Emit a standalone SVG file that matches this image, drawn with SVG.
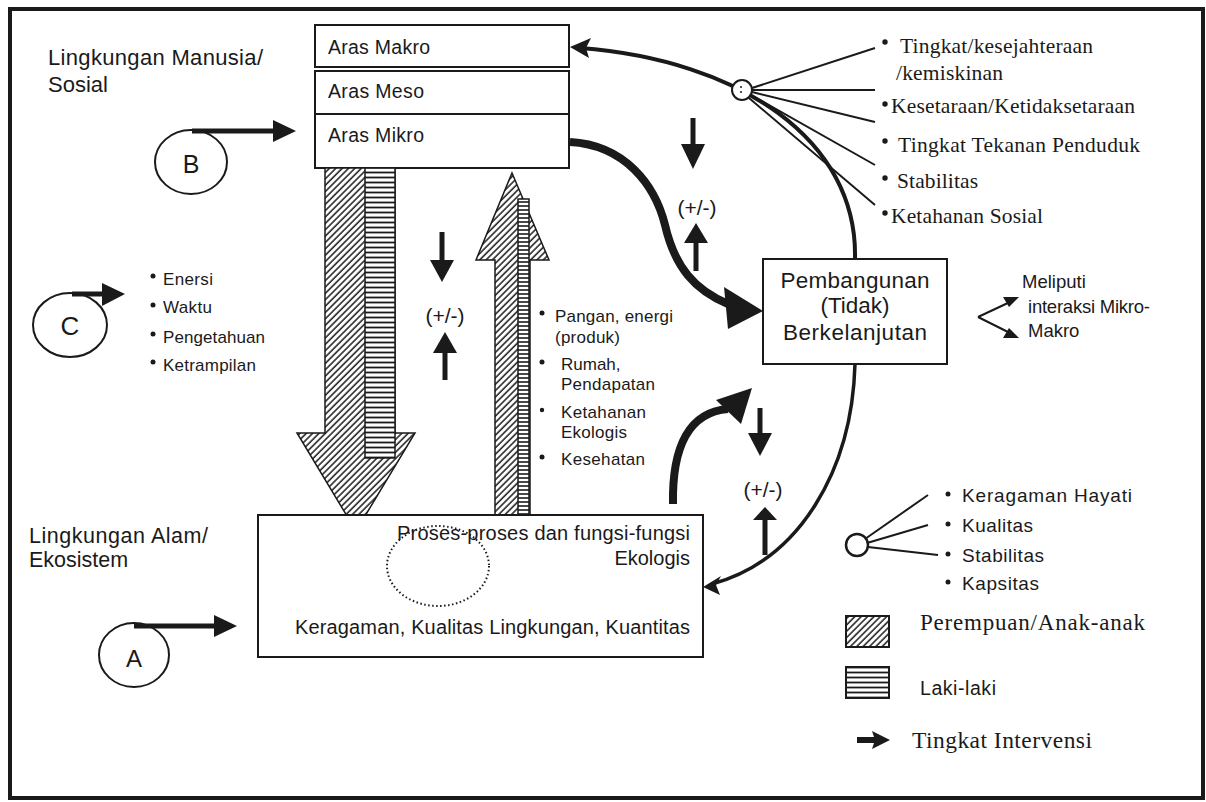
<svg xmlns="http://www.w3.org/2000/svg" width="1206" height="802" viewBox="0 0 1206 802">
<style>
.s{font-family:"Liberation Sans",Arial,sans-serif;fill:#1a1a1a}
.t{font-family:"Liberation Serif","Times New Roman",serif;fill:#1a1a1a}
.box{fill:#fff;stroke:#1a1a1a;stroke-width:2}
.ln{fill:none;stroke:#1a1a1a}
.fill{fill:#1a1a1a}
</style>
<defs>
<pattern id="hatch" patternUnits="userSpaceOnUse" width="4.5" height="4.5" patternTransform="rotate(45)">
<rect width="4.5" height="4.5" fill="#fff"/>
<line x1="1" y1="0" x2="1" y2="4.5" stroke="#1a1a1a" stroke-width="1.5"/>
</pattern>
<pattern id="stripes" patternUnits="userSpaceOnUse" width="8" height="5">
<rect width="8" height="5" fill="#fff"/>
<line x1="0" y1="2.5" x2="8" y2="2.5" stroke="#1a1a1a" stroke-width="1.8"/>
</pattern>
<pattern id="stripes2" patternUnits="userSpaceOnUse" width="8" height="4">
<rect width="8" height="4" fill="#fff"/>
<line x1="0" y1="2" x2="8" y2="2" stroke="#1a1a1a" stroke-width="1.6"/>
</pattern>
</defs>
<rect x="0" y="0" width="1206" height="802" fill="#fff"/>
<rect x="10" y="9" width="1193" height="789" fill="none" stroke="#1a1a1a" stroke-width="4"/>

<g id="label-manusia">
<text class="s" x="48" y="65" font-size="22" textLength="215">Lingkungan Manusia/</text>
<text class="s" x="48" y="92" font-size="22">Sosial</text>
</g>
<g id="label-alam">
<text class="s" x="29" y="543" font-size="21.5" textLength="179">Lingkungan Alam/</text>
<text class="s" x="29" y="567" font-size="21.5">Ekosistem</text>
</g>

<g id="aras">
<rect class="box" x="315" y="25" width="254" height="42"/>
<rect class="box" x="315" y="71" width="254" height="43"/>
<rect class="box" x="315" y="114" width="254" height="54"/>
<text class="s" x="328" y="54" font-size="19.5" textLength="102">Aras Makro</text>
<text class="s" x="328" y="98" font-size="19.5" textLength="96">Aras Meso</text>
<text class="s" x="328" y="142" font-size="19.5" textLength="96">Aras Mikro</text>
</g>

<g id="arrow-down">
<polygon points="325,168 395,168 395,433 415,433 356,531 297,433 325,433" fill="url(#hatch)" stroke="#1a1a1a" stroke-width="1.5"/>
<rect x="365" y="168" width="30" height="290" fill="url(#stripes)" stroke="#1a1a1a" stroke-width="1.5"/>
</g>

<g id="arrow-up">
<polygon points="512,173 549,260 530,260 530,520 495,520 495,260 476,260" fill="url(#hatch)" stroke="#1a1a1a" stroke-width="1.5"/>
<rect x="518" y="199" width="11" height="321" fill="url(#stripes2)" stroke="#1a1a1a" stroke-width="1.5"/>
</g>

<g id="node-B">
<ellipse class="ln" cx="191" cy="162" rx="36" ry="32" stroke-width="2"/>
<text class="s" x="191" y="173" font-size="25" text-anchor="middle">B</text>
</g>
<g id="node-C">
<ellipse class="ln" cx="70" cy="325" rx="37" ry="32" stroke-width="2"/>
<text class="s" x="70" y="335" font-size="26" text-anchor="middle">C</text>
</g>
<g id="node-A">
<ellipse class="ln" cx="134" cy="655" rx="35" ry="32" stroke-width="2"/>
<text class="s" x="134" y="667" font-size="24" text-anchor="middle">A</text>
</g>

<g id="list-C">
<circle class="fill" cx="153" cy="276" r="2.5"/>
<circle class="fill" cx="153" cy="305" r="2.5"/>
<circle class="fill" cx="153" cy="334" r="2.5"/>
<circle class="fill" cx="153" cy="362" r="2.5"/>
<text class="s" x="163" y="285" font-size="17" textLength="50">Enersi</text>
<text class="s" x="163" y="313" font-size="17" textLength="49">Waktu</text>
<text class="s" x="163" y="343" font-size="17" textLength="102">Pengetahuan</text>
<text class="s" x="163" y="371" font-size="17" textLength="93">Ketrampilan</text>
</g>

<g id="list-produk">
<circle class="fill" cx="542" cy="313" r="2.5"/>
<circle class="fill" cx="542" cy="362" r="2.5"/>
<circle class="fill" cx="542" cy="410" r="2.2"/>
<circle class="fill" cx="542" cy="457" r="2.5"/>
<text class="s" x="555" y="322" font-size="17" textLength="118">Pangan, energi</text>
<text class="s" x="555" y="343" font-size="17" textLength="65">(produk)</text>
<text class="s" x="561" y="370" font-size="17">Rumah,</text>
<text class="s" x="561" y="390" font-size="17" textLength="94">Pendapatan</text>
<text class="s" x="561" y="418" font-size="17" textLength="85">Ketahanan</text>
<text class="s" x="561" y="438" font-size="17" textLength="66">Ekologis</text>
<text class="s" x="561" y="465" font-size="17" textLength="84">Kesehatan</text>
</g>

<g id="node-pembangunan">
<rect class="box" x="763" y="259" width="184" height="105"/>
<text class="s" x="855" y="288" font-size="22.5" text-anchor="middle" textLength="149">Pembangunan</text>
<text class="s" x="855" y="313" font-size="22.5" text-anchor="middle">(Tidak)</text>
<text class="s" x="855" y="340" font-size="22.5" text-anchor="middle" textLength="144">Berkelanjutan</text>
</g>

<g id="meliputi">
<text class="s" x="1022" y="288" font-size="18.5">Meliputi</text>
<text class="s" x="1028" y="313" font-size="18.5" textLength="122">interaksi Mikro-</text>
<text class="s" x="1028" y="337" font-size="18.5">Makro</text>
</g>

<g id="node-ekosistem">
<rect class="box" x="258" y="515" width="445" height="142"/>
<ellipse cx="438" cy="566" rx="51" ry="40" fill="none" stroke="#1a1a1a" stroke-width="2" stroke-dasharray="1.5 2.5"/>
<text class="s" x="690" y="540" font-size="20" text-anchor="end" textLength="293">Proses-proses dan fungsi-fungsi</text>
<text class="s" x="690" y="565" font-size="20" text-anchor="end">Ekologis</text>
<text class="s" x="295" y="634" font-size="20" textLength="395">Keragaman, Kualitas Lingkungan, Kuantitas</text>
</g>

<g id="list-sosial">
<circle class="fill" cx="885" cy="42" r="2.7"/>
<circle class="fill" cx="885" cy="104" r="2.7"/>
<circle class="fill" cx="885" cy="141" r="2.7"/>
<circle class="fill" cx="885" cy="178" r="2.7"/>
<circle class="fill" cx="885" cy="213" r="2.7"/>
<text class="t" x="900" y="53" font-size="21.5" textLength="193">Tingkat/kesejahteraan</text>
<text class="t" x="896" y="80" font-size="21.5" textLength="107">/kemiskinan</text>
<text class="t" x="891" y="113" font-size="21.5" textLength="244">Kesetaraan/Ketidaksetaraan</text>
<text class="t" x="898" y="152" font-size="21.5" textLength="242">Tingkat Tekanan Penduduk</text>
<text class="t" x="897" y="188" font-size="21.5" textLength="81">Stabilitas</text>
<text class="t" x="891" y="223" font-size="21.5" textLength="152">Ketahanan Sosial</text>
</g>

<g id="list-alam">
<circle class="ln" cx="857" cy="545" r="11" stroke-width="2.5"/>
<circle class="fill" cx="948" cy="494" r="2.5"/>
<circle class="fill" cx="948" cy="524" r="2.5"/>
<circle class="fill" cx="948" cy="554" r="2.5"/>
<circle class="fill" cx="948" cy="582" r="2.5"/>
<text class="s" x="962" y="502" font-size="19" textLength="170">Keragaman Hayati</text>
<text class="s" x="962" y="532" font-size="19" textLength="71">Kualitas</text>
<text class="s" x="962" y="562" font-size="19" textLength="82">Stabilitas</text>
<text class="s" x="962" y="590" font-size="19" textLength="77">Kapsitas</text>
</g>

<g id="legend">
<rect x="846" y="616" width="43" height="31" fill="url(#hatch)" stroke="#1a1a1a" stroke-width="2"/>
<text class="t" x="920" y="630" font-size="23" textLength="225">Perempuan/Anak-anak</text>
<rect x="846" y="667" width="43" height="31" fill="url(#stripes)" stroke="#1a1a1a" stroke-width="2"/>
<text class="s" x="920" y="695" font-size="19.5" textLength="76">Laki-laki</text>
<line x1="857" y1="740" x2="876" y2="740" stroke="#1a1a1a" stroke-width="6"/>
<polygon class="fill" points="890,740 872,731 875,740 872,749"/>
<text class="t" x="912" y="748" font-size="23.5" textLength="180">Tingkat Intervensi</text>
</g>

<g id="connectors">
<line x1="192" y1="131" x2="276" y2="131" stroke="#1a1a1a" stroke-width="5"/>
<polygon class="fill" points="296,131 273,120 273,142"/>
<line x1="72" y1="294" x2="105" y2="294" stroke="#1a1a1a" stroke-width="5"/>
<polygon class="fill" points="125,294 102,283 102,306"/>
<line x1="134" y1="626" x2="217" y2="626" stroke="#1a1a1a" stroke-width="5"/>
<polygon class="fill" points="237,626 214,615 214,637"/>

<path class="ln" d="M855,259 C858,140 740,60 580,48" stroke-width="4"/>
<polygon class="fill" points="570,47 591,38 586,48 589,58"/>
<circle cx="742" cy="90" r="10" fill="#fff" stroke="#1a1a1a" stroke-width="2"/>
<circle class="fill" cx="741" cy="87" r="1"/>
<circle class="fill" cx="741" cy="92" r="1"/>
<g class="ln" stroke-width="2">
<line x1="752" y1="88" x2="875" y2="48"/>
<line x1="752" y1="90" x2="875" y2="90"/>
<line x1="752" y1="92" x2="875" y2="122"/>
<line x1="751" y1="95" x2="875" y2="165"/>
<line x1="749" y1="98" x2="875" y2="205"/>
</g>

<path class="ln" d="M570,142 C625,145 655,185 665,225 C675,268 695,290 728,304" stroke-width="8"/>
<polygon class="fill" points="763,311 724,287 728,329"/>

<path class="ln" d="M673,504 C672,445 690,412 728,409" stroke-width="8"/>
<polygon class="fill" points="752,388 716,400 741,424"/>

<path class="ln" d="M855,364 C852,470 800,560 712,584" stroke-width="3.5"/>
<polygon class="fill" points="703,587 721,576 716,585 720,595"/>

<g class="ln" stroke-width="2">
<line x1="865" y1="539" x2="928" y2="495"/>
<line x1="867" y1="543" x2="928" y2="525"/>
<line x1="868" y1="547" x2="938" y2="555"/>
</g>

<line x1="978" y1="317" x2="1010" y2="302" stroke="#1a1a1a" stroke-width="2"/>
<polygon class="fill" points="1019,297 1003,297 1009,307"/>
<line x1="978" y1="317" x2="1010" y2="333" stroke="#1a1a1a" stroke-width="2"/>
<polygon class="fill" points="1019,338 1003,338 1009,328"/>

<g id="pm-left">
<line x1="442" y1="232" x2="442" y2="262" stroke="#1a1a1a" stroke-width="5"/>
<polygon class="fill" points="430,260 454,260 442,282"/>
<text class="s" x="445" y="323" font-size="21" text-anchor="middle">(+/-)</text>
<polygon class="fill" points="433,353 457,353 445,332"/>
<line x1="445" y1="351" x2="445" y2="380" stroke="#1a1a1a" stroke-width="5"/>
</g>
<g id="pm-top">
<line x1="693" y1="118" x2="693" y2="146" stroke="#1a1a1a" stroke-width="5"/>
<polygon class="fill" points="681,144 705,144 693,169"/>
<text class="s" x="697" y="215" font-size="21" text-anchor="middle">(+/-)</text>
<polygon class="fill" points="684,243 708,243 696,223"/>
<line x1="696" y1="241" x2="696" y2="271" stroke="#1a1a1a" stroke-width="5"/>
</g>
<g id="pm-bottom">
<line x1="760" y1="408" x2="760" y2="435" stroke="#1a1a1a" stroke-width="5"/>
<polygon class="fill" points="748,433 772,433 760,456"/>
<text class="s" x="763" y="497" font-size="21" text-anchor="middle">(+/-)</text>
<polygon class="fill" points="753,520 777,520 765,507"/>
<line x1="765" y1="518" x2="765" y2="555" stroke="#1a1a1a" stroke-width="5"/>
</g>
</g>
</svg>
